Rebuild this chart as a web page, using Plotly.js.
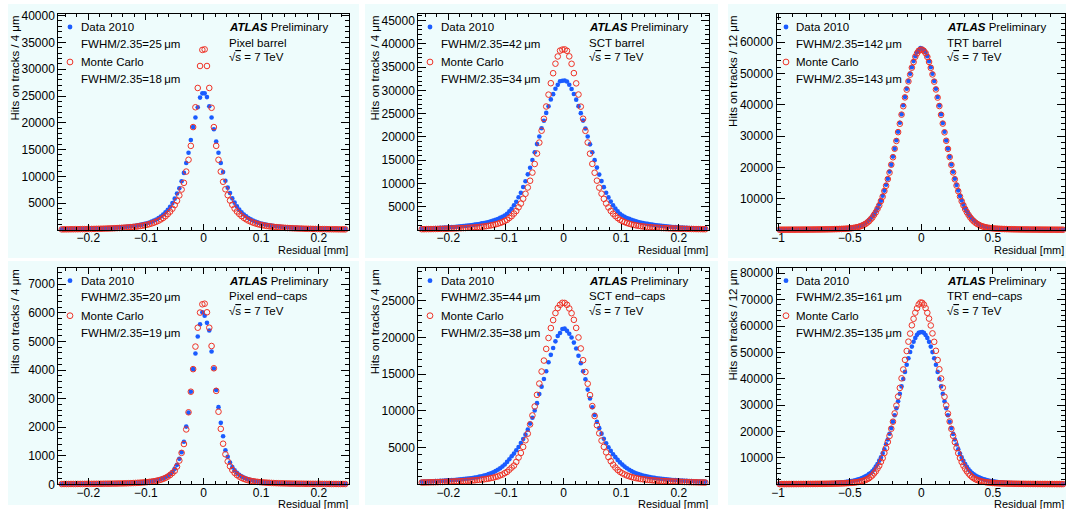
<!DOCTYPE html>
<html><head><meta charset="utf-8">
<script src="https://cdn.plot.ly/plotly-3.0.1.min.js"></script>
<style>html,body{margin:0;padding:0;background:#fff;} #chart{width:1066px;height:509px;}</style>
</head><body><div id="chart"></div>
<script>
// ---------------- data (hits per bin) ----------------
// Pixel / SCT: 124 bins of 4 um, centres from -0.246 to 0.246 mm
const pixBarData = [150,158,163,170,176,183,190,198,205,214,223,232,242,253,265,278,291,306,322,340,360,381,404,430,458,489,522,558,598,642,690,745,805,875,955,1045,1150,1265,1400,1560,1750,1970,2220,2520,2880,3300,3780,4350,5050,5850,6800,7800,9100,10650,12500,14400,16800,19200,21000,22900,24700,25500,
 25500,24800,23100,21000,18800,16500,14400,12500,10800,9200,7900,6900,5900,5100,4400,3800,3300,2900,2550,2250,2000,1780,1590,1420,1270,1150,1050,960,880,810,750,695,645,600,560,525,493,464,437,412,389,368,349,331,314,298,284,271,259,247,236,226,217,208,200,192,185,178,172,166,160,155];
const pixBarMC = [118,122,126,131,136,141,147,152,158,165,171,178,186,195,204,214,225,237,250,264,280,296,315,334,356,379,405,432,463,497,535,577,625,680,740,810,890,985,1095,1220,1370,1540,1740,1980,2250,2580,2980,3430,3980,4650,5450,6450,7550,8800,10900,13100,15700,19200,22900,26500,30600,33600,
 33700,30600,26500,22800,19200,15700,13100,10900,9000,7600,6500,5500,4700,4000,3450,3000,2600,2270,1990,1750,1550,1380,1230,1100,990,895,815,745,685,630,580,536,497,462,430,401,375,352,331,312,294,278,263,249,236,224,213,203,194,185,177,169,162,155,149,143,138,133,128,123,119,115];
const sctBarData = [300,305,330,342,368,383,412,428,462,482,520,541,586,610,660,690,748,780,842,885,958,1005,1090,1145,1240,1305,1415,1495,1625,1725,1885,2015,2210,2370,2610,2820,3120,3480,4030,4580,5330,6080,7040,7980,9240,10470,11950,13380,15050,16680,18450,20080,21850,23480,25150,26580,28050,29180,30350,31180,31950,32050,
 32100,31900,31200,30300,29200,28000,26600,25100,23500,21800,20100,18400,16700,15000,13400,11900,10500,9200,8000,7000,6100,5300,4600,4000,3500,3100,2830,2590,2380,2190,2020,1870,1730,1610,1500,1400,1310,1230,1150,1080,1010,950,890,835,785,740,695,655,615,580,545,515,485,458,432,408,386,365,345,327,310,294];
const sctBarMC = [170,175,185,191,202,207,220,228,243,250,268,276,299,306,331,345,371,386,416,432,470,492,535,562,610,648,708,755,830,895,995,1085,1220,1345,1525,1690,1950,2180,2590,2980,3530,4080,4880,5680,6730,7780,9130,10580,12330,14180,16430,18780,21330,23880,26530,29080,31530,33680,35730,37280,38530,38750,
 38800,38500,37300,35700,33700,31500,29100,26500,23900,21300,18800,16400,14200,12300,10600,9100,7800,6700,5700,4850,4100,3500,3000,2570,2200,1930,1700,1510,1350,1210,1090,990,900,825,760,700,650,605,565,528,495,465,437,411,388,366,346,327,310,294,279,265,252,240,229,218,208,199,190,182,174,167];
const pixEcData = [13,14,14,15,14,15,16,15,16,17,17,18,19,18,20,21,20,22,23,24,25,27,28,29,31,33,35,37,40,43,47,50,55,60,66,73,81,90,100,112,126,143,162,185,212,245,290,350,430,540,680,890,1120,1490,2020,2510,3240,4030,4580,5170,5600,6020,
 5900,5650,5380,4650,4050,3300,2700,2150,1680,1190,960,760,600,490,400,330,280,235,200,172,150,130,114,100,89,80,72,65,59,54,50,46,43,40,37,35,33,31,29,28,27,26,25,24,23,22,21,20,20,19,18,18,17,17,16,16,15,15,15,14,14,14];
const pixEcMC = [10,11,11,11,12,12,12,13,13,14,14,15,15,16,17,17,18,19,20,21,22,23,24,26,27,29,31,33,35,38,41,44,48,52,57,63,69,76,85,95,107,122,140,162,190,225,270,325,395,470,620,830,1100,1410,1920,2520,3240,4030,4820,5480,6010,6300,
 6320,6020,5480,4840,4060,3270,2540,1940,1420,1050,800,630,500,400,325,270,225,190,162,140,122,107,95,85,76,69,63,57,52,48,44,41,38,35,33,31,29,27,26,24,23,22,21,20,19,18,17,17,16,15,15,14,14,13,13,12,12,12,11,11,11,10];
const sctEcData = [348,368,372,394,399,422,428,454,461,490,497,530,538,575,586,626,640,685,702,754,775,834,862,930,965,1050,1100,1200,1270,1390,1490,1650,1790,1990,2170,2430,2700,3050,3410,3820,4180,4630,5090,5630,6170,6760,7440,8270,9070,10060,11050,12300,13300,14350,15400,16630,17630,18570,19470,20200,20600,21150,
 21200,20900,20500,20000,19300,18500,17500,16500,15400,14300,12900,11700,10500,9450,8500,7650,6900,6200,5600,5050,4550,4100,3700,3320,2980,2680,2410,2180,1980,1800,1640,1500,1380,1280,1190,1110,1040,975,920,870,825,783,745,710,677,647,619,593,568,545,523,503,484,466,449,433,418,404,390,377,365,353];
const sctEcMC = [247,250,261,263,277,280,294,298,314,317,336,339,360,362,385,390,414,420,448,455,487,495,532,540,585,598,650,672,737,770,855,900,1010,1075,1220,1325,1520,1690,1990,2280,2550,3050,3640,4270,5090,6000,6900,8160,9380,10600,12190,13720,15360,16850,18440,19930,21280,22360,23320,24000,24450,24720,
 24700,24450,23950,23300,22400,21300,20000,18500,16900,15300,13700,12150,10650,9300,8050,6950,5950,5100,4350,3700,3150,2680,2290,1960,1700,1500,1340,1200,1090,990,910,840,780,725,680,640,605,575,548,523,500,479,459,441,424,408,393,379,366,354,342,331,320,310,300,291,282,274,266,258,251,244];
// TRT: 166 bins of 12 um, centres from -0.990 to 0.990 mm
const trtBarData = [84,83,88,87,92,91,97,96,102,102,108,108,114,115,122,123,130,132,140,143,152,155,166,170,182,187,201,208,225,233,253,264,288,303,332,352,390,416,466,503,570,622,712,786,915,1025,1210,1375,1635,1885,2250,2610,3140,3640,4350,5040,6000,6940,8150,9380,10950,12580,14450,16380,18650,20880,23450,25980,28650,31380,34250,36980,39850,42480,45150,47580,49950,51980,53950,55480,56750,57480,58100,
 57900,57500,56700,55500,53900,52000,49900,47600,45100,42500,39800,37000,34200,31400,28600,26000,23400,20900,18600,16400,14400,12600,10900,9400,8100,6950,5950,5050,4300,3650,3100,2620,2220,1890,1610,1380,1190,1030,900,790,700,625,560,505,458,418,383,353,327,304,283,265,249,234,221,209,198,188,179,171,163,156,150,144,138,133,128,124,120,116,112,109,106,103,100,97,95,92,90,88,86,84,82];
const trtBarMC = [89,90,91,95,95,100,100,105,106,111,112,117,118,124,126,132,134,141,144,151,155,163,167,176,181,191,197,210,216,231,239,256,267,288,300,327,342,375,396,440,470,532,578,668,742,872,990,1185,1365,1660,1930,2360,2770,3390,3960,4850,5650,6760,7840,9260,10640,12460,14140,16260,18340,20860,23240,25960,28440,31260,33940,36860,39540,42360,44840,47460,49640,51860,53640,55360,56440,57260,57550,
 57600,57200,56500,55300,53700,51800,49700,47400,44900,42300,39600,36800,34000,31200,28500,25900,23300,20800,18400,16200,14200,12400,10700,9200,7900,6700,5700,4800,4000,3350,2800,2330,1950,1640,1380,1170,1000,860,750,660,585,525,475,435,400,370,345,323,303,285,269,254,241,229,218,208,199,190,182,175,168,162,156,150,145,140,135,131,127,123,119,116,113,110,107,104,101,99,96,94,92,90,88];
const trtEcData = [139,140,146,148,154,156,163,165,172,175,184,187,196,200,210,215,227,232,245,251,266,274,292,301,322,332,357,370,401,418,454,475,520,550,607,645,714,760,846,910,1020,1100,1235,1340,1520,1660,1885,2070,2375,2620,3010,3350,3860,4300,4970,5700,6720,7700,8970,10200,11760,13300,15150,17000,19150,21300,23740,26200,28840,31500,34340,37100,39940,42600,45340,47800,50140,52200,54040,55500,56640,57400,57650,
 57700,57400,56600,55500,54000,52200,50100,47800,45300,42600,39900,37100,34300,31500,28800,26200,23700,21300,19100,17000,15100,13300,11700,10200,8900,7700,6650,5700,4900,4300,3800,3350,2960,2620,2330,2070,1850,1660,1490,1340,1210,1100,1000,910,830,760,700,645,595,550,510,475,445,418,393,370,350,332,316,301,287,274,262,251,241,232,223,215,207,200,193,187,181,175,170,165,160,156,152,148,144,140,137];
const trtEcMC = [86,88,88,92,92,96,97,101,102,107,108,113,114,119,121,127,129,135,138,145,148,156,160,169,174,184,190,202,208,223,231,248,258,279,291,318,334,368,389,434,462,522,563,645,700,815,895,1060,1180,1425,1620,1950,2290,2840,3360,4150,4900,6010,7040,8520,9930,11870,13730,16070,18330,21070,23730,26870,29830,33270,36530,40170,43530,47170,50530,54070,57130,60270,62730,65070,66730,68170,68900,
 68800,68100,66800,65000,62800,60200,57200,54000,50600,47100,43600,40100,36600,33200,29900,26800,23800,21000,18400,16000,13800,11800,10000,8450,7100,5950,4950,4100,3400,2800,2320,1920,1650,1400,1200,1040,910,800,710,635,570,515,468,428,393,363,337,314,294,276,260,246,233,221,210,200,191,183,175,168,161,155,149,144,139,134,130,126,122,118,115,112,109,106,103,100,98,95,93,91,89,87,85];

// bin widths (mm) and labels
const binWidths = [0.004, 0.004, 0.012, 0.004, 0.004, 0.012];
const detectorNames = ['Pixel barrel', 'SCT barrel', 'TRT barrel', 'Pixel end\u2212caps', 'SCT end\u2212caps', 'TRT end\u2212caps'];
const fwhmData = ['25', '42', '142', '20', '44', '161'];
const fwhmMC = ['18', '34', '143', '19', '38', '135'];
const yTitles = ['Hits on tracks / 4 \u03bcm', 'Hits on tracks / 4 \u03bcm', 'Hits on tracks / 12 \u03bcm', 'Hits on tracks / 4 \u03bcm', 'Hits on tracks / 4 \u03bcm', 'Hits on tracks / 12 \u03bcm'];
const xTickValsSiP = [-0.2, -0.1, 0, 0.1, 0.2];
const xTickValsTRT = [-1, -0.5, 0, 0.5];
const yTickVals = [
  [5000, 10000, 15000, 20000, 25000, 30000, 35000, 40000],
  [5000, 10000, 15000, 20000, 25000, 30000, 35000, 40000, 45000],
  [10000, 20000, 30000, 40000, 50000, 60000],
  [0, 1000, 2000, 3000, 4000, 5000, 6000, 7000],
  [5000, 10000, 15000, 20000, 25000],
  [10000, 20000, 30000, 40000, 50000, 60000, 70000, 80000]
];
const yMax = [40300, 46400, 69000, 7580, 29500, 82100];

const dataSeries = [pixBarData, sctBarData, trtBarData, pixEcData, sctEcData, trtEcData];
const mcSeries = [pixBarMC, sctBarMC, trtBarMC, pixEcMC, sctEcMC, trtEcMC];

// ---------------- layout geometry (pixels) ----------------
const W = 1066, H = 509;
const fx = v => v / W, fy = v => 1 - v / H;
const frames = [
  {x0: 58.3, x1: 349.3, y0: 14, y1: 230},
  {x0: 418.3, x1: 709.3, y0: 14, y1: 230},
  {x0: 776.7, x1: 1064.5, y0: 14, y1: 230},
  {x0: 58.3, x1: 349.3, y0: 267.7, y1: 484.3},
  {x0: 418.3, x1: 709.3, y0: 267.7, y1: 484.3},
  {x0: 776.7, x1: 1064.5, y0: 267.7, y1: 484.3}
];
const bgRects = [
  {x0: 8, x1: 359, y0: 4, y1: 258}, {x0: 365, x1: 718, y0: 4, y1: 258}, {x0: 728, x1: 1066, y0: 4, y1: 258},
  {x0: 8, x1: 359, y0: 261, y1: 505}, {x0: 365, x1: 718, y0: 261, y1: 505}, {x0: 728, x1: 1066, y0: 261, y1: 505}
];
const BLUE = '#1a5cff', RED = '#ee3226', BG = 'rgb(238,252,252)';
const FONT = 'Liberation Sans, Arial, Helvetica, sans-serif';

function centers(n, w) { const a = []; for (let i = 0; i < n; i++) a.push((i - (n - 1) / 2) * w); return a; }

const traces = [];
const layout = {
  width: W, height: H, autosize: false,
  margin: {l: 0, r: 0, t: 0, b: 0, pad: 0},
  paper_bgcolor: '#ffffff', plot_bgcolor: 'rgba(0,0,0,0)',
  showlegend: false,
  font: {family: FONT, size: 12, color: '#000'},
  shapes: [], annotations: []
};

bgRects.forEach(r => layout.shapes.push({type: 'rect', xref: 'paper', yref: 'paper', layer: 'below',
  x0: fx(r.x0), x1: fx(r.x1), y0: fy(r.y1), y1: fy(r.y0), line: {width: 0}, fillcolor: BG}));

function ann(text, x, y, extra) {
  layout.annotations.push(Object.assign({text: text, xref: 'paper', yref: 'paper', x: fx(x), y: fy(y),
    xanchor: 'left', yanchor: 'middle', showarrow: false, borderpad: 0, font: {family: FONT, size: 11.5, color: '#000'}}, extra || {}));
}

for (let i = 0; i < 6; i++) {
  const f = frames[i];
  const sfx = i === 0 ? '' : String(i + 1);
  const isTRT = (i === 2 || i === 5);
  const xs = centers(dataSeries[i].length, binWidths[i]);
  traces.push({type: 'scatter', mode: 'markers', x: xs, y: dataSeries[i], xaxis: 'x' + sfx, yaxis: 'y' + sfx,
    cliponaxis: false, hoverinfo: 'skip', marker: {symbol: 'circle', size: 4.6, color: BLUE, line: {width: 0}}});
  traces.push({type: 'scatter', mode: 'markers', x: centers(mcSeries[i].length, binWidths[i]), y: mcSeries[i], xaxis: 'x' + sfx, yaxis: 'y' + sfx,
    cliponaxis: false, hoverinfo: 'skip', marker: {symbol: 'circle-open', size: 5.6, color: RED, line: {width: 1, color: RED}}});

  const yMinorStep = (i === 3) ? 200 : (isTRT ? 2000 : 1000);
  layout['xaxis' + sfx] = {
    domain: [fx(f.x0), fx(f.x1)], anchor: 'y' + sfx,
    range: isTRT ? [-1.01, 1.0] : [-0.252, 0.253],
    tickmode: 'array', tickvals: isTRT ? xTickValsTRT : xTickValsSiP,
    ticks: 'inside', ticklen: 6, tickwidth: 1, tickcolor: '#000', ticklabelstandoff: -3,
    showline: true, linecolor: '#000', linewidth: 1, mirror: 'ticks',
    showgrid: false, zeroline: false, fixedrange: true,
    tickfont: {family: FONT, size: 12, color: '#000'},
    minor: {tickmode: 'linear', tick0: 0, dtick: isTRT ? 0.1 : 0.02, ticks: 'inside', ticklen: 3, tickwidth: 1, tickcolor: '#000', showgrid: false}
  };
  layout['yaxis' + sfx] = {
    domain: [fy(f.y1), fy(f.y0)], anchor: 'x' + sfx,
    range: [0, yMax[i]],
    tickmode: 'array', tickvals: yTickVals[i], tickformat: 'd',
    ticks: 'inside', ticklen: 8, tickwidth: 1, tickcolor: '#000',
    showline: true, linecolor: '#000', linewidth: 1, mirror: 'ticks',
    showgrid: false, zeroline: false, fixedrange: true,
    tickfont: {family: FONT, size: 12, color: '#000'},
    minor: {tickmode: 'linear', tick0: 0, dtick: yMinorStep, ticks: 'inside', ticklen: 4, tickwidth: 1, tickcolor: '#000', showgrid: false}
  };

  // legend-like block
  const mx = f.x0 + (isTRT ? 9.3 : 11.7);
  const tx = f.x0 + (isTRT ? 18.3 : 21.7);
  const rx = f.x0 + 169.4;
  const rowY = [13, 29.6, 48, 65.4].map(d => f.y0 + d);
  const rY = [13, 28.6, 43].map(d => f.y0 + d);
  layout.shapes.push({type: 'circle', xref: 'paper', yref: 'paper', layer: 'above',
    x0: fx(mx - 2.4), x1: fx(mx + 2.4), y0: fy(rowY[0] + 2.4), y1: fy(rowY[0] - 2.4), fillcolor: BLUE, line: {width: 0}});
  layout.shapes.push({type: 'circle', xref: 'paper', yref: 'paper', layer: 'above',
    x0: fx(mx - 2.9), x1: fx(mx + 2.9), y0: fy(rowY[2] + 2.9), y1: fy(rowY[2] - 2.9), fillcolor: 'rgba(0,0,0,0)', line: {width: 1, color: RED}});
  ann('Data 2010', tx, rowY[0]);
  ann('FWHM/2.35=' + fwhmData[i] + '\u2009\u03bcm', tx, rowY[1]);
  ann('Monte Carlo', tx, rowY[2]);
  ann('FWHM/2.35=' + fwhmMC[i] + '\u2009\u03bcm', tx, rowY[3]);
  ann('<b><i>ATLAS</i></b> Preliminary', rx, rY[0]);
  ann(detectorNames[i], rx, rY[1]);
  ann('\u221a<span style="text-decoration:overline">s</span> = 7 TeV', rx, rY[2]);
  // axis titles
  ann(yTitles[i], f.x0 - 43.3, f.y0 + 1, {xanchor: 'center', yanchor: 'top', textangle: -90});
  ann('Residual [mm]', Math.min(f.x1, 1065), f.y1 + (i < 3 ? 20.4 : 19.2), {xanchor: 'right', font: {family: FONT, size: 11, color: '#000'}});
}

Plotly.newPlot('chart', traces, layout, {displayModeBar: false, staticPlot: true});
</script>
</body></html>
